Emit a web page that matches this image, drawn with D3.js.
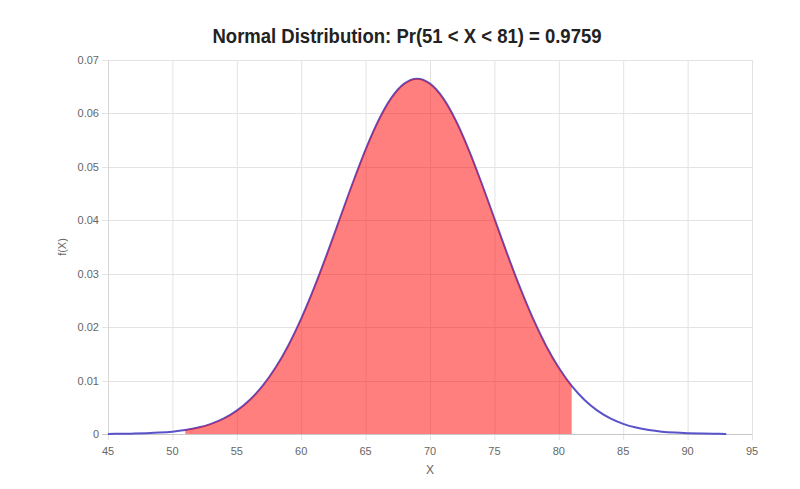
<!DOCTYPE html>
<html>
<head>
<meta charset="utf-8">
<script src="https://cdn.jsdelivr.net/npm/d3@7/dist/d3.min.js"></script>
<style>
  body { margin: 0; background: #fff; }
  text { font-family: "Liberation Sans", Arial, sans-serif; }
</style>
</head>
<body>
<div id="chart"></div>
<script>
// values
var xValues = [45, 46, 47, 48, 49, 50, 51, 52, 53, 54, 55, 56, 57, 58, 59, 60, 61, 62, 63, 64, 65, 66, 67, 68, 69,
               70, 71, 72, 73, 74, 75, 76, 77, 78, 79, 80, 81, 82, 83, 84, 85, 86, 87, 88, 89, 90, 91, 92, 93]
var density = [0.00002, 0.00004, 0.00008, 0.00015, 0.00026, 0.00044, 0.00074, 0.00120, 0.00190, 0.00292,
               0.00437, 0.00636, 0.00900, 0.01239, 0.01658, 0.02159, 0.02734, 0.03367, 0.04033, 0.04698,
               0.05324, 0.05868, 0.06290, 0.06557, 0.06649,
               0.06557, 0.06290, 0.05868, 0.05324, 0.04698, 0.04033, 0.03367, 0.02734, 0.02159, 0.01658,
               0.01239, 0.00900, 0.00636, 0.00437, 0.00292, 0.00190, 0.00120, 0.00074, 0.00044, 0.00026,
               0.00015, 0.00008, 0.00004, 0.00002]
var lower = 51, upper = 81
var xTicks = [45, 50, 55, 60, 65, 70, 75, 80, 85, 90, 95]
var yTicks = [0, 0.01, 0.02, 0.03, 0.04, 0.05, 0.06, 0.07]
var title = "Normal Distribution: Pr(51 < X < 81) = 0.9759"

var width = 800, height = 489
var margin = {top: 60, right: 48, bottom: 55, left: 108}

var svg = d3.select("#chart")
    .append("svg")
        .attr("width", width)
        .attr("height", height)

var x = d3.scaleLinear().domain([45, 95]).range([margin.left, width - margin.right])
var y = d3.scaleLinear().domain([0, 0.07]).range([height - margin.bottom, margin.top])

var pts = xValues.map(function(v, i) { return {x: v, y: density[i]} })

// grid
svg.append("g").selectAll("line")
    .data(xTicks)
    .enter().append("line")
        .attr("x1", function(d) { return x(d) + 0.5 })
        .attr("x2", function(d) { return x(d) + 0.5 })
        .attr("y1", margin.top)
        .attr("y2", height - margin.bottom + 6)
        .attr("stroke", "#e3e3e3")

svg.append("g").selectAll("line")
    .data(yTicks)
    .enter().append("line")
        .attr("x1", margin.left - 6)
        .attr("x2", width - margin.right)
        .attr("y1", function(d) { return Math.round(y(d)) + 0.5 })
        .attr("y2", function(d) { return Math.round(y(d)) + 0.5 })
        .attr("stroke", function(d) { return d == 0 ? "#c8c8c8" : "#e3e3e3" })

svg.append("line")
    .attr("x1", margin.left + 0.5).attr("x2", margin.left + 0.5)
    .attr("y1", margin.top).attr("y2", height - margin.bottom)
    .attr("stroke", "#d6d6d6")

// tick labels
svg.append("g").selectAll("text")
    .data(xTicks)
    .enter().append("text")
        .attr("x", function(d) { return x(d) })
        .attr("y", height - margin.bottom + 21)
        .attr("text-anchor", "middle")
        .attr("font-size", 11)
        .attr("fill", "#666")
        .text(function(d) { return d })

svg.append("g").selectAll("text")
    .data(yTicks)
    .enter().append("text")
        .attr("x", margin.left - 9)
        .attr("y", function(d) { return y(d) + 4 })
        .attr("text-anchor", "end")
        .attr("font-size", 11)
        .attr("fill", "#666")
        .text(function(d) { return d == 0 ? "0" : d3.format(".2f")(d) })

// curve
var line = d3.line()
    .x(function(d) { return x(d.x) })
    .y(function(d) { return y(d.y) })
    .curve(d3.curveMonotoneX)

svg.append("path")
    .datum(pts)
    .attr("d", line)
    .attr("fill", "none")
    .attr("stroke", "#5a52c8")
    .attr("stroke-width", 2)

// shaded region
var area = d3.area()
    .x(function(d) { return x(d.x) })
    .y0(y(0))
    .y1(function(d) { return y(d.y) })
    .curve(d3.curveMonotoneX)

svg.append("path")
    .datum(pts.filter(function(d) { return d.x >= lower && d.x <= upper }))
    .attr("d", area)
    .attr("fill", "rgba(255, 0, 0, 0.5)")

// titles
svg.append("text")
    .attr("x", 407)
    .attr("y", 43)
    .attr("text-anchor", "middle")
    .attr("font-size", 20)
    .attr("font-weight", "bold")
    .attr("textLength", 389)
    .attr("lengthAdjust", "spacingAndGlyphs")
    .attr("fill", "#222")
    .text(title)

svg.append("text")
    .attr("x", (x(45) + x(95)) / 2)
    .attr("y", 474)
    .attr("text-anchor", "middle")
    .attr("font-size", 12)
    .attr("fill", "#666")
    .text("X")

svg.append("text")
    .attr("transform", "translate(66," + (y(0.035)) + ") rotate(-90)")
    .attr("text-anchor", "middle")
    .attr("font-size", 11)
    .attr("fill", "#666")
    .text("f(X)")
</script>
</body>
</html>
